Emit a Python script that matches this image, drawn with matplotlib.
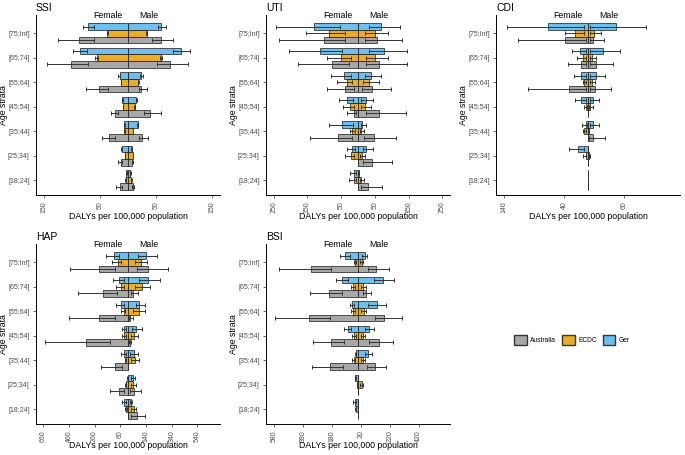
import numpy as np
import matplotlib.pyplot as plt
from matplotlib.patches import Patch

plt.rcParams['font.family'] = ['Liberation Sans', 'DejaVu Sans']

ages = ['[75;Inf]', '[65;74]', '[55;64]', '[45;54]', '[35;44]', '[25;34]', '[18;24]']
countries = ['Ger', 'ECDC', 'Australia']
colors = {'Australia': '#999999', 'ECDC': '#E69F00', 'Ger': '#56B4E9'}

# one row per age stratum (top to bottom):
# female estimate, female CI inner, female CI outer, male estimate, male CI inner, male CI outer
ssi_ger = [(71, 60, 80, 59, 53, 67), (86, 73, 98, 95, 81, 110), (15, 14, 17, 24, 22, 27),
           (10, 9, 11, 15, 14, 16), (7, 6, 8, 17, 16, 18), (11, 10, 12, 6.5, 6, 7),
           (3, 2.5, 3.5, 4, 3.5, 4.5)]
ssi_ecdc = [(37, 36, 38, 33, 32, 34), (55, 54, 58, 58, 57, 60), (12.5, 12, 13, 18, 17, 19),
            (9, 8.5, 9.5, 12, 11.5, 12.5), (6.5, 6, 7, 9, 8.5, 9.5), (5, 4.5, 5.5, 9, 8.5, 9.5),
            (4, 3.5, 4.5, 6, 5.5, 6.5)]
ssi_aus = [(87, 60, 125, 58, 42, 81), (102, 71, 145, 75, 52, 107), (52, 36, 74, 22.5, 20, 33),
           (22.5, 17, 31, 40, 28, 58), (34, 24, 47, 25.5, 20, 36), (12, 10, 18, 8, 7, 9),
           (15, 10, 21, 9, 6.5, 11)]

uti_ger = [(131, 54, 243, 67, 33, 126), (112, 47, 206, 77, 33, 146), (43, 22, 79, 38, 20, 69),
           (32, 15, 57, 23, 10, 45), (47, 15, 87, 12, 8, 25), (17, 10, 32, 25, 15, 45),
           (12, 7, 23, 2, 1, 3)]
uti_ecdc = [(86, 38, 155, 50, 20, 89), (50, 20, 91, 50, 23, 89), (33, 18, 61, 33, 15, 61),
            (23, 13, 45, 20, 10, 38), (17, 8, 25, 8, 5, 17), (20, 13, 38, 12, 7, 22),
            (13, 5, 27, 8, 5, 17)]
uti_aus = [(101, 38, 235, 57, 20, 131), (77, 28, 178, 62, 23, 146), (40, 13, 92, 42, 13, 97),
           (13, 7, 33, 61, 23, 142), (59, 18, 141, 48, 17, 114), (0, 0, 0, 43, 15, 101),
           (0, 0, 0, 30, 10, 71)]

cdi_ger = [(67, 7, 134, 46, 3, 96), (13, 3, 26, 25, 4, 54), (12, 4, 24, 14, 4, 29),
           (11, 4, 21, 8, 4, 18), (4, 2, 10, 8, 3, 18), (17, 7, 32, 0, 0, 0),
           (0, 0, 0, 0, 0, 0)]
cdi_ecdc = [(21, 7, 38, 10, 4, 21), (9, 4, 18, 7, 3, 14), (7, 3, 8, 6, 3, 11),
            (4, 2, 6, 3, 2, 8), (6, 3, 9, 1, 0.5, 1.5), (4, 3, 9, 2, 1, 4),
            (0, 0, 0, 0, 0, 0)]
cdi_aus = [(38, 4, 117, 8, 3, 27), (11, 3, 33, 13, 4, 42), (32, 3, 100, 12, 3, 39),
           (0, 0, 0, 0, 0, 0), (0, 0, 0, 9, 2, 29), (0, 0, 0, 0, 0, 0),
           (0, 0, 0, 0, 0, 0)]

hap_ger = [(109, 70, 169, 143, 78, 229), (73, 34, 117, 156, 86, 252), (57, 34, 96, 86, 60, 135),
           (31, 18, 47, 65, 31, 109), (31, 13, 52, 47, 18, 78), (3, 1, 5, 39, 26, 52),
           (31, 18, 47, 21, 13, 31)]
hap_ecdc = [(78, 52, 122, 104, 52, 151), (57, 34, 91, 112, 52, 169), (31, 21, 52, 86, 39, 130),
            (31, 13, 47, 47, 26, 78), (21, 13, 21, 52, 21, 86), (18, 13, 21, 39, 21, 65),
            (18, 8, 21, 44, 21, 65)]
hap_aus = [(226, 99, 455, 156, 70, 312), (195, 86, 390, 39, 26, 78), (226, 104, 460, 18, 8, 39),
           (330, 143, 649, 13, 5, 26), (104, 47, 208, 0, 0, 0), (73, 34, 143, 47, 13, 99),
           (0, 0, 0, 70, 21, 135)]

bsi_ger = [(87, 57, 126, 46, 30, 64), (108, 69, 154, 172, 110, 248), (41, 28, 57, 131, 69, 191),
           (69, 46, 99, 76, 46, 110), (16, 11, 18, 69, 46, 99), (18, 11, 23, 0, 0, 0),
           (23, 16, 34, 0, 0, 0)]
bsi_ecdc = [(23, 16, 30, 30, 16, 34), (34, 18, 51, 34, 18, 53), (34, 18, 51, 41, 18, 57),
            (30, 16, 41, 34, 18, 46), (30, 18, 41, 34, 18, 46), (7, 5, 9, 28, 11, 34),
            (16, 11, 18, 0, 0, 0)]
bsi_aus = [(326, 184, 547, 126, 69, 211), (200, 108, 333, 53, 34, 92), (340, 195, 575, 179, 120, 306),
           (184, 99, 310, 143, 76, 241), (191, 103, 317, 115, 62, 191), (0, 0, 0, 0, 0, 0),
           (0, 0, 0, 0, 0, 0)]

panels = [
    ('SSI', {'Ger': ssi_ger, 'ECDC': ssi_ecdc, 'Australia': ssi_aus}, 164, [-150, -50, 50, 150]),
    ('UTI', {'Ger': uti_ger, 'ECDC': uti_ecdc, 'Australia': uti_aus}, 273, [-250, -150, -50, 50, 150, 250]),
    ('CDI', {'Ger': cdi_ger, 'ECDC': cdi_ecdc, 'Australia': cdi_aus}, 153, [-140, -40, 60]),
    ('HAP', {'Ger': hap_ger, 'ECDC': hap_ecdc, 'Australia': hap_aus}, 716, [-660, -460, -260, -60, 140, 340, 540]),
    ('BSI', {'Ger': bsi_ger, 'ECDC': bsi_ecdc, 'Australia': bsi_aus}, 635, [-580, -380, -180, 20, 220, 420]),
]

W, H = 685, 455
fig = plt.figure(figsize=(W / 100, H / 100), dpi=100)

lefts = [36, 266, 496, 36, 266]
tops = [15, 15, 15, 244, 244]
pw, ph = 184, 180

offsets = {'Ger': 0.27, 'ECDC': 0.0, 'Australia': -0.27}
box_h = 0.27
ypos = np.arange(len(ages), 0, -1)

for (name, data, lim, breaks), l, t in zip(panels, lefts, tops):
    ax = fig.add_axes([l / W, 1 - (t + ph) / H, pw / W, ph / H])
    for c in countries:
        arr = np.array(data[c], float)
        y = ypos + offsets[c]
        for sign, cols in ((-1, (0, 1, 2)), (1, (3, 4, 5))):
            est = sign * arr[:, cols[0]]
            inner = sign * arr[:, cols[1]]
            outer = sign * arr[:, cols[2]]
            lo = np.minimum(inner, outer)
            hi = np.maximum(inner, outer)
            ax.barh(y, est, height=box_h, left=0, color=colors[c], alpha=0.85,
                    edgecolor='#1a1a1a', linewidth=0.6, zorder=2)
            ax.errorbar(est, y, xerr=[est - lo, hi - est], fmt='none', ecolor='#333333',
                        elinewidth=0.7, capsize=1.5, capthick=0.7, zorder=3)
    ax.set_xlim(-lim, lim)
    ax.set_ylim(0.39, 7.75)
    ax.set_yticks(ypos)
    ax.set_yticklabels(ages)
    ax.set_xticks(breaks)
    ax.set_xticklabels([str(abs(b)) for b in breaks], rotation=90)
    ax.tick_params(labelsize=5, colors='#4d4d4d', length=2.5, width=0.6, pad=2)
    for s in ('top', 'right'):
        ax.spines[s].set_visible(False)
    for s in ('left', 'bottom'):
        ax.spines[s].set_linewidth(0.7)
    ax.set_title(name, loc='left', fontsize=7.5, pad=3)
    ax.text(0.388, 1.0, 'Female', transform=ax.transAxes, ha='center', va='center', fontsize=6.3)
    ax.text(0.614, 1.0, 'Male', transform=ax.transAxes, ha='center', va='center', fontsize=6.3)
    ax.set_ylabel('Age strata', fontsize=6.3)
    ax.yaxis.set_label_coords(-0.174, 0.5)
    ax.yaxis.label.set_va('center')
    ax.set_xlabel('DALYs per 100,000 population', fontsize=6.3)
    ax.xaxis.set_label_coords(0.5, -0.117)
    ax.xaxis.label.set_va('center')

handles = [Patch(facecolor=colors[c], edgecolor='#1a1a1a', alpha=0.85, label=c)
           for c in ['Australia', 'ECDC', 'Ger']]
fig.legend(handles=handles, loc='center', bbox_to_anchor=(572 / W, 1 - 340 / H), ncol=3,
           frameon=False, fontsize=4.8, handlelength=1.9, handleheight=1.9,
           columnspacing=0.9, handletextpad=0.5)

fig.savefig('out.png', dpi=100)
